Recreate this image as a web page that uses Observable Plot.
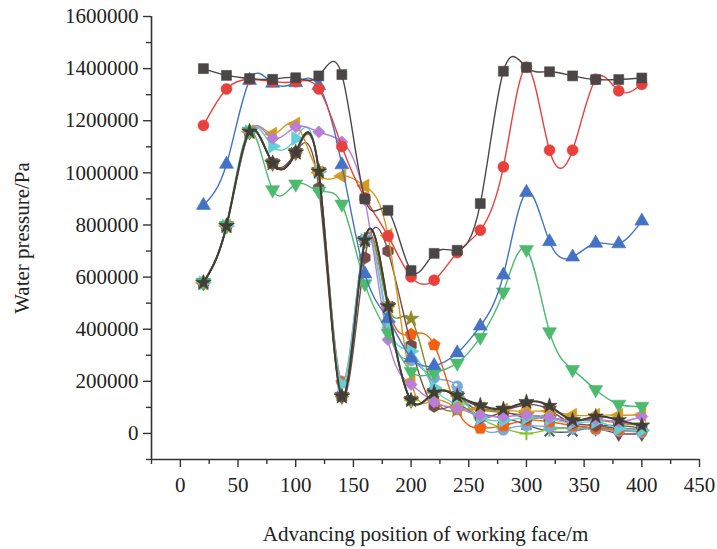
<!DOCTYPE html>
<html><head><meta charset="utf-8">
<script src="https://cdn.jsdelivr.net/npm/d3@7"></script>
<script src="https://cdn.jsdelivr.net/npm/@observablehq/plot@0.6"></script>
<style>html,body{margin:0;padding:0;background:#fff;overflow:hidden}#chart{width:717px;height:549px}</style>
</head><body><div id="chart"></div>
<script>
// ---- data ----
const positions = [20,40,60,80,100,120,140,160,180,200,220,240,260,280,300,320,340,360,380,400];
const xTicks = [0,50,100,150,200,250,300,350,400,450];
const yTicks = [0,200000,400000,600000,800000,1000000,1200000,1400000,1600000];

const seriesSquare   = [1400000,1374000,1362000,1359000,1365000,1372000,1377000,900000,856000,625000,691000,703000,882000,1390000,1405000,1388000,1372000,1358000,1358000,1364000];
const seriesCircle   = [1182000,1322000,1359000,1350000,1350000,1322000,1101000,904000,758000,601000,588000,694000,780000,1023000,1405000,1087000,1087000,1359000,1315000,1340000];
const seriesTriUp    = [875000,1033000,1355000,1344000,1346000,1335000,1031000,612000,440000,290000,260000,309000,412000,608000,925000,736000,677000,730000,728000,815000];
const seriesTriDown  = [580000,798000,1160000,935000,957000,930000,880000,574000,385000,238000,232000,270000,369000,543000,706000,390000,245000,168000,112000,104000];
const seriesDiamond  = [578000,796000,1158000,1133000,1176000,1157000,1119000,896000,360000,188000,120000,95000,70000,65000,70000,62000,48000,55000,45000,65000];
const seriesTriLeft  = [578000,796000,1158000,1149000,1187000,1000000,988000,950000,760000,200000,128000,100000,95000,90000,85000,85000,70000,70000,70000,72000];
const seriesTriRight = [578000,796000,1158000,1102000,1132000,1005000,190000,741000,430000,315000,175000,110000,60000,50000,60000,55000,40000,45000,20000,12000];
const seriesHexagon  = [578000,796000,1158000,1037000,1078000,942000,142000,674000,700000,338000,104000,110000,61000,80000,59000,60000,40000,30000,30000,20000];
const seriesStar     = [578000,796000,1158000,1037000,1078000,1005000,142000,741000,488000,440000,150000,90000,90000,80000,70000,60000,50000,50000,40000,30000];
const seriesPentagon = [578000,796000,1158000,1037000,1078000,1005000,195000,741000,488000,380000,340000,91000,20000,30000,50000,45000,30000,20000,15000,10000];
const seriesSphere   = [578000,796000,1158000,1037000,1078000,1005000,200000,741000,408000,280000,213000,181000,27000,14000,30000,25000,20000,15000,10000,5000];
const seriesPlus     = [578000,796000,1158000,1037000,1078000,1005000,142000,741000,488000,127000,157000,144000,60000,20000,0,15000,20000,20000,15000,10000];
const seriesTimes    = [578000,796000,1158000,1037000,1078000,1005000,142000,741000,488000,127000,157000,144000,80000,60000,33000,8000,8000,25000,20000,15000];
const seriesTriDown2 = [578000,796000,1158000,1037000,1078000,1005000,142000,741000,488000,127000,157000,144000,100000,90000,110000,90000,35000,20000,0,0];
const seriesStar2    = [578000,796000,1158000,1037000,1078000,1005000,142000,741000,488000,127000,157000,144000,108000,94000,121000,106000,51000,65000,51000,30000];

// ---- symbols ----
const s3 = Math.sqrt(3);
function tri(dir){return {draw(c,size){const y=-Math.sqrt(size/(s3*3));
  if(dir==="down"){c.moveTo(0,-2*y);c.lineTo(-s3*y,y);c.lineTo(s3*y,y);}
  else if(dir==="left"){c.moveTo(2*y,0);c.lineTo(-y,-s3*y);c.lineTo(-y,s3*y);}
  else {c.moveTo(-2*y,0);c.lineTo(y,s3*y);c.lineTo(y,-s3*y);}
  c.closePath();}};}
function poly(n){return {draw(c,size){const R=Math.sqrt(2*size/(n*Math.sin(2*Math.PI/n)));
  for(let k=0;k<n;k++){const a=-Math.PI/2+k*2*Math.PI/n;const px=R*Math.cos(a),py=R*Math.sin(a);k?c.lineTo(px,py):c.moveTo(px,py);}c.closePath();}};}

const styles = [
  {values: seriesTriDown2, color:"#7a4545", symbol: tri("down"), r:5.2},
  {values: seriesTimes,    color:"#4b5a6e", symbol: "times", r:4.5, hollow:true},
  {values: seriesPlus,     color:"#84c424", symbol: "plus", r:4.5, hollow:true},
  {values: seriesSphere,   color:"#7aa8d8", symbol: "circle", r:5.5, sphere:true},
  {values: seriesPentagon, color:"#f26010", symbol: poly(5), r:5.5},
  {values: seriesStar,     color:"#8e8b2a", symbol: "star", r:5},
  {values: seriesHexagon,  color:"#7a4a48", symbol: poly(6), r:5.5},
  {values: seriesTriRight, color:"#62cfd6", symbol: tri("right"), r:5.2},
  {values: seriesTriLeft,  color:"#d49a1c", symbol: tri("left"), r:5.2},
  {values: seriesDiamond,  color:"#b97ed8", symbol: "diamond2", r:5.5},
  {values: seriesTriDown,  color:"#4cbb6d", symbol: tri("down"), r:5.2},
  {values: seriesTriUp,    color:"#4472c4", symbol: "triangle", r:5.2},
  {values: seriesCircle,   color:"#e8413c", symbol: "circle", r:5.5},
  {values: seriesSquare,   color:"#4a4646", symbol: "square", r:5.6},
  {values: seriesStar2,    color:"#3f3f38", symbol: "star", r:4.8, width:2}
];

const marks = [];
for (const s of styles) {
  const rows = positions.map((x,i)=>({x, y: s.values[i]}));
  marks.push(Plot.line(rows,{x:"x",y:"y",stroke:s.color,strokeWidth:s.width||1.4,curve:"natural"}));
  if (s.hollow) marks.push(Plot.dot(rows,{x:"x",y:"y",symbol:s.symbol,stroke:s.color,strokeWidth:2,fill:"none",r:s.r}));
  else marks.push(Plot.dot(rows,{x:"x",y:"y",symbol:s.symbol,fill:s.color,stroke:s.color,strokeWidth:0.6,r:s.r}));
  if (s.sphere) marks.push(Plot.dot(rows,{x:"x",y:"y",fill:"white",fillOpacity:0.85,r:1.8,dx:-1.5,dy:-1.5}));
}

const font = "'Liberation Serif', 'DejaVu Serif', serif";
const minorX = [-25,25,75,125,175,225,275,325,375,425];
const minorY = [-100000,100000,300000,500000,700000,900000,1100000,1300000,1500000];

const chart = Plot.plot({
  width: 717, height: 549,
  marginLeft: 151, marginRight: 18, marginTop: 16, marginBottom: 90,
  style: {fontFamily: font, background: "#fff", color: "#222"},
  x: {domain: [-25, 450]},
  y: {domain: [-100000, 1600000]},
  marks: [
    Plot.axisX({ticks: minorX, tickSize: 5, tickFormat: () => "", stroke: "#333", strokeWidth: 1.4, label: null}),
    Plot.axisY({ticks: minorY, tickSize: 5, tickFormat: () => "", stroke: "#333", strokeWidth: 1.4, label: null}),
    Plot.axisX({ticks: xTicks, tickSize: 8, tickPadding: 10, tickFormat: d3.format("d"), fontSize: 21, stroke: "#333", strokeWidth: 1.4, fill: "#222", label: null}),
    Plot.axisY({ticks: yTicks, tickSize: 8, tickPadding: 5, tickFormat: d3.format("d"), fontSize: 21, stroke: "#333", strokeWidth: 1.4, fill: "#222", label: null}),
    ...marks,
    Plot.ruleX([-25], {stroke: "#333", strokeWidth: 1.6}),
    Plot.ruleY([-100000], {stroke: "#333", strokeWidth: 1.6}),
    Plot.text(["Advancing position of working face/m"], {frameAnchor: "bottom", textAnchor: "middle", lineAnchor: "middle", dy: 75, fontSize: 21, fill: "#222", fontFamily: font}),
    Plot.text(["Water pressure/Pa"], {frameAnchor: "left", textAnchor: "middle", lineAnchor: "middle", dx: -129, rotate: -90, fontSize: 21, fill: "#222", fontFamily: font})
  ]
});
document.getElementById("chart").appendChild(chart);
</script></body></html>
